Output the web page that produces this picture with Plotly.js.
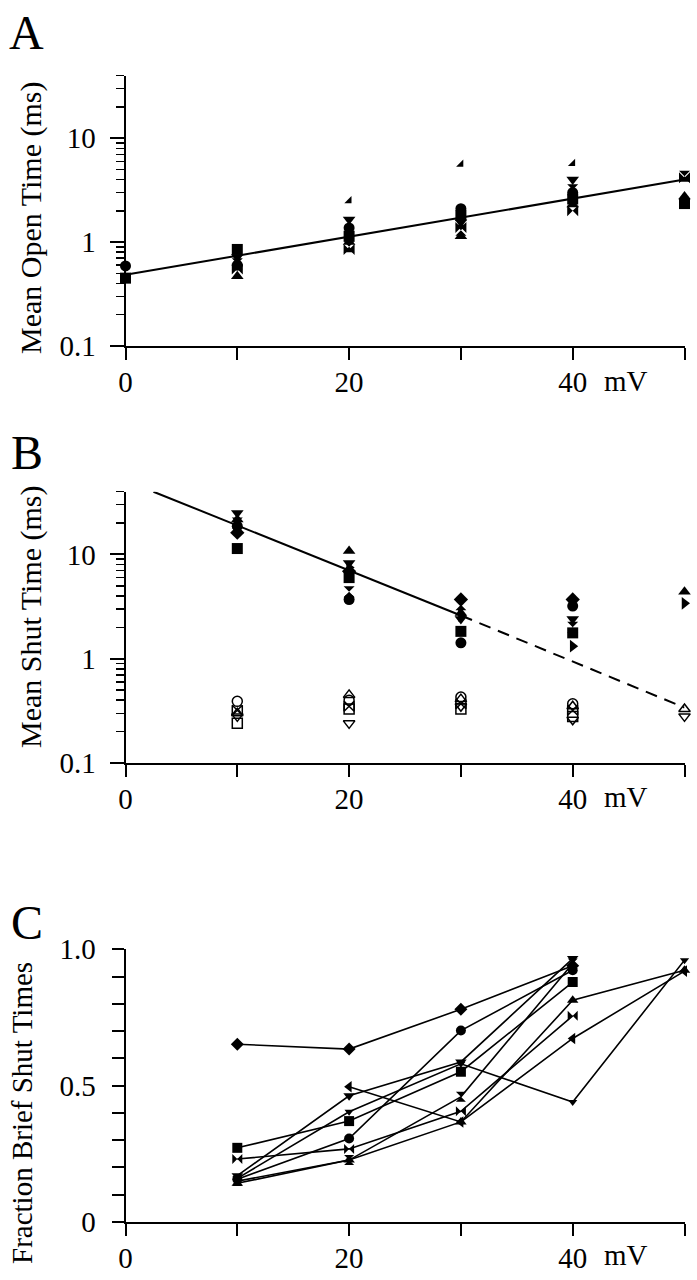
<!DOCTYPE html>
<html>
<head>
<meta charset="utf-8">
<script src="https://cdn.plot.ly/plotly-3.0.1.min.js"></script>
<style>html,body{margin:0;padding:0;background:#fff;}#chart{width:697px;height:1280px;}</style>
</head>
<body>
<div id="chart"></div>
<script>
// ---------- Panel A: Mean Open Time (ms) ----------
const voltsA = [0, 10, 20, 30, 40, 50];
const openCircle    = [0.59, 0.60, 1.37, 2.10, 3.00, null];
const openSquare    = [0.45, 0.85, 1.14, 1.80, 2.60, 2.35];
const openTriUp     = [null, 0.47, 1.00, 1.14, 2.30, 2.75];
const openTriDown   = [null, 0.72, 1.65, 1.55, 4.00, null];
const openBowtie    = [null, 0.55, 0.85, 1.38, 2.00, 4.17];
const openHourglass = [null, 0.62, 0.90, 1.30, 3.20, 4.30];
const openSmallTri  = [null, null, 2.50, 5.60, 5.70, null];
const fitAx = [0, 50];
const fitAy = [0.485, 4.0];

// ---------- Panel B: Mean Shut Time (ms) ----------
const voltsB = [10, 20, 30, 40, 50];
const shutTriDown   = [25.0, 8.3, 2.4, 2.4, null];
const shutTriUp     = [21.7, 10.8, 2.75, null, 4.4];
const shutHourglass = [20.0, 4.4, 3.3, 2.0, null];
const shutCircle    = [18.7, 3.7, 1.42, 3.2, null];
const shutDiamond   = [16.2, 6.9, 3.7, 3.7, null];
const shutSquare    = [11.4, 6.0, 1.83, 1.77, null];
const shutTriRight  = [null, 7.5, 2.6, 1.32, 3.4];
const briefCircle   = [0.39, 0.40, 0.43, 0.37, null];
const briefBowtie   = [0.32, 0.35, 0.37, 0.32, null];
const briefSquare   = [0.24, 0.33, 0.33, 0.28, null];
const briefTriUp    = [0.30, 0.45, 0.41, 0.35, 0.33];
const briefTriDown  = [0.28, 0.24, 0.35, 0.26, 0.28];
const fitBx = [2.5, 30];
const fitBy = [40, 2.6];
const extBx = [30, 50];
const extBy = [2.6, 0.34];

// ---------- Panel C: Fraction Brief Shut Times ----------
const voltsC = [10, 20, 30, 40, 50];
const fracDiamond   = [0.652, 0.634, 0.780, 0.940, null];
const fracCircle    = [0.157, 0.306, 0.702, 0.923, null];
const fracSquare    = [0.272, 0.370, 0.551, 0.880, null];
const fracBowtie    = [0.231, 0.268, 0.406, 0.756, null];
const fracTriDown   = [0.170, 0.463, 0.587, 0.966, null];
const fracHourglass = [0.150, 0.227, 0.459, 0.948, null];
const fracTriUp     = [0.142, 0.227, 0.367, 0.813, 0.923];
const fracTriLeft   = [null, 0.496, 0.367, 0.673, 0.920];
const fracTriDown2  = [0.160, 0.404, 0.580, 0.440, 0.960];

// tick labels
const xTickVals = [0, 10, 20, 30, 40, 50];
const xTickText = ['0', '', '20', '', '40', ''];
const logTickVals = [0.1, 1, 10];
const logTickText = ['0.1', '1', '10'];
const logMinorVals = [0.2,0.3,0.4,0.5,0.6,0.7,0.8,0.9,2,3,4,5,6,7,8,9,20,30,40];
const fracTickVals = [0,0.1,0.2,0.3,0.4,0.5,0.6,0.7,0.8,0.9,1.0];
const fracTickText = ['0','','','','','0.5','','','','','1.0'];

const FONT = 'Liberation Serif, Times New Roman, serif';
const traces = [];

function pts(x, y, symbol, xa, ya, opts) {
  opts = opts || {};
  traces.push({
    x: x, y: y, xaxis: xa, yaxis: ya,
    mode: opts.lines ? 'lines+markers' : 'markers',
    type: 'scatter',
    cliponaxis: false,
    connectgaps: false,
    line: {color: '#000', width: 1.6},
    marker: {
      symbol: symbol,
      size: opts.size || 11,
      color: opts.open ? 'rgba(255,255,255,0)' : '#000',
      line: {color: '#000', width: opts.open ? 1.5 : 0}
    },
    showlegend: false, hoverinfo: 'skip'
  });
}
function line(x, y, xa, ya, dash) {
  traces.push({
    x: x, y: y, xaxis: xa, yaxis: ya, mode: 'lines', type: 'scatter',
    cliponaxis: false,
    line: {color: '#000', width: 2, dash: dash || 'solid'},
    showlegend: false, hoverinfo: 'skip'
  });
}

// Panel A
line(fitAx, fitAy, 'x', 'y');
pts(voltsA, openCircle, 'circle', 'x', 'y');
pts(voltsA, openSquare, 'square', 'x', 'y');
pts(voltsA, openTriUp, 'triangle-up', 'x', 'y');
pts(voltsA, openTriDown, 'triangle-down', 'x', 'y');
pts(voltsA, openBowtie, 'bowtie', 'x', 'y');
pts(voltsA, openHourglass, 'hourglass', 'x', 'y');
pts(voltsA, openSmallTri, 'triangle-se', 'x', 'y', {size: 8});

// Panel B
line(fitBx, fitBy, 'x2', 'y2');
line(extBx, extBy, 'x2', 'y2', '12px,8px');
pts(voltsB, shutTriDown, 'triangle-down', 'x2', 'y2');
pts(voltsB, shutTriUp, 'triangle-up', 'x2', 'y2');
pts(voltsB, shutHourglass, 'hourglass', 'x2', 'y2');
pts(voltsB, shutCircle, 'circle', 'x2', 'y2');
pts(voltsB, shutDiamond, 'diamond', 'x2', 'y2');
pts(voltsB, shutSquare, 'square', 'x2', 'y2');
pts(voltsB, shutTriRight, 'triangle-right', 'x2', 'y2');
pts(voltsB, briefCircle, 'circle', 'x2', 'y2', {open: true, size: 10});
pts(voltsB, briefBowtie, 'bowtie', 'x2', 'y2', {open: true, size: 10});
pts(voltsB, briefSquare, 'square', 'x2', 'y2', {open: true, size: 10});
pts(voltsB, briefTriUp, 'triangle-up', 'x2', 'y2', {open: true, size: 10});
pts(voltsB, briefTriDown, 'triangle-down', 'x2', 'y2', {open: true, size: 10});

// Panel C
pts(voltsC, fracDiamond, 'diamond', 'x3', 'y3', {lines: true, size: 10});
pts(voltsC, fracCircle, 'circle', 'x3', 'y3', {lines: true, size: 10});
pts(voltsC, fracSquare, 'square', 'x3', 'y3', {lines: true, size: 10});
pts(voltsC, fracBowtie, 'bowtie', 'x3', 'y3', {lines: true, size: 10});
pts(voltsC, fracTriDown, 'triangle-down', 'x3', 'y3', {lines: true, size: 10});
pts(voltsC, fracHourglass, 'hourglass', 'x3', 'y3', {lines: true, size: 10});
pts(voltsC, fracTriUp, 'triangle-up', 'x3', 'y3', {lines: true, size: 10});
pts(voltsC, fracTriLeft, 'triangle-left', 'x3', 'y3', {lines: true, size: 10});
pts(voltsC, fracTriDown2, 'triangle-down', 'x3', 'y3', {lines: true, size: 8});

const H = 1280, W = 697;
const px = v => v / W;
const py = v => 1 - v / H;
const xDomain = [px(125.5), px(684.5)];

function xAxis(anchor) {
  return {
    domain: xDomain, anchor: anchor, range: [0, 50], fixedrange: true,
    showgrid: false, zeroline: false,
    showline: true, linecolor: '#000', linewidth: 2,
    ticks: 'outside', ticklen: 12, tickwidth: 2, tickcolor: '#000',
    tickmode: 'array', tickvals: xTickVals, ticktext: xTickText,
    ticklabelstandoff: -3,
    tickfont: {family: FONT, size: 29, color: '#000'}
  };
}
function logAxis(anchor, dom) {
  return {
    domain: dom, anchor: anchor, type: 'log',
    range: [-1, Math.log10(40)], fixedrange: true,
    showgrid: false, zeroline: false,
    showline: true, linecolor: '#000', linewidth: 2,
    ticks: 'outside', ticklen: 14, tickwidth: 2, tickcolor: '#000',
    tickmode: 'array', tickvals: logTickVals, ticktext: logTickText,
    ticklabelstandoff: 8,
    minor: {tickmode: 'array', tickvals: logMinorVals, ticks: 'outside',
            ticklen: 8, tickwidth: 1.5, tickcolor: '#000', showgrid: false},
    tickfont: {family: FONT, size: 29, color: '#000'}
  };
}

function ann(text, x, y, size, angle) {
  return {text: text, x: px(x), y: py(y), xref: 'paper', yref: 'paper',
          xanchor: 'center', yanchor: 'middle', textangle: angle || 0,
          showarrow: false, font: {family: FONT, size: size, color: '#000'}};
}

const layout = {
  width: W, height: H,
  margin: {l: 0, r: 0, t: 0, b: 0},
  paper_bgcolor: '#fff', plot_bgcolor: '#fff',
  showlegend: false,
  xaxis: xAxis('y'),
  yaxis: logAxis('x', [py(346), py(75.7)]),
  xaxis2: xAxis('y2'),
  yaxis2: logAxis('x2', [py(763), py(491.7)]),
  xaxis3: xAxis('y3'),
  yaxis3: {
    domain: [py(1222), py(949.3)], anchor: 'x3', range: [0, 1], fixedrange: true,
    showgrid: false, zeroline: false,
    showline: true, linecolor: '#000', linewidth: 2,
    ticks: 'outside', ticklen: 12, tickwidth: 2, tickcolor: '#000',
    tickmode: 'array', tickvals: fracTickVals, ticktext: fracTickText,
    ticklabelstandoff: 10,
    tickfont: {family: FONT, size: 29, color: '#000'}
  },
  annotations: [
    ann('A', 27, 33, 48),
    ann('B', 27, 452, 48),
    ann('C', 27, 922, 48),
    ann('Mean Open Time (ms)', 31, 218, 30, -90),
    ann('Mean Shut Time (ms)', 31, 617, 30, -90),
    ann('Fraction Brief Shut Times', 22, 1113, 29, -90),
    ann('mV', 626, 381, 29),
    ann('mV', 626, 797, 29),
    ann('mV', 626, 1255, 29)
  ]
};

Plotly.newPlot('chart', traces, layout, {staticPlot: true, displayModeBar: false});
</script>
</body>
</html>
